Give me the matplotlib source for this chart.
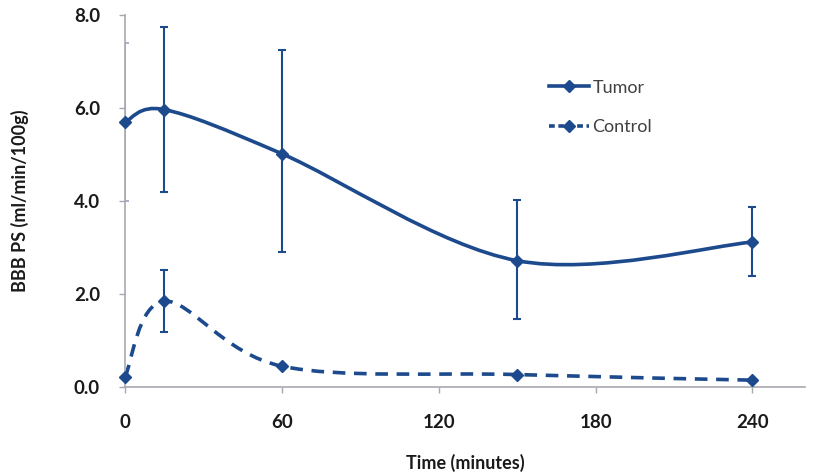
import matplotlib
matplotlib.use('Agg')
import matplotlib.pyplot as plt
import numpy as np
from matplotlib.path import Path
from matplotlib.patches import PathPatch
from matplotlib.lines import Line2D

time = [0, 15, 60, 150, 240]
tumor = [5.7, 5.97, 5.02, 2.72, 3.12]
tumor_err_lo = [1.7, 1.77, 2.12, 1.25, 0.72]
tumor_err_hi = [1.7, 1.78, 2.23, 1.30, 0.76]
control = [0.22, 1.85, 0.45, 0.27, 0.15]
control_err = [0.0, 0.67, 0.0, 0.0, 0.0]

blue = '#1d4a8c'
plt.rcParams['font.family'] = ['Lato', 'DejaVu Sans']


def smooth_path(x, y):
    '''Excel-artige geglaettete Linie als Bezier-Pfad'''
    pts = np.column_stack([x, y]).astype(float)
    n = len(pts)
    verts = [pts[0]]
    codes = [Path.MOVETO]
    for i in range(n - 1):
        p0 = pts[max(i - 1, 0)]
        p1 = pts[i]
        p2 = pts[i + 1]
        p3 = pts[min(i + 2, n - 1)]
        verts += [p1 + (p2 - p0) / 6, p2 - (p3 - p1) / 6, p2]
        codes += [Path.CURVE4] * 3
    return Path(verts, codes)


fig = plt.figure(figsize=(8.14, 4.75), dpi=100)
ax = fig.add_axes([0.1536, 0.185, 0.835, 0.783])

ax.add_patch(PathPatch(smooth_path(time, tumor), fill=False, edgecolor=blue,
                       lw=2.6, capstyle='round', clip_on=False))
ax.add_patch(PathPatch(smooth_path(time, control), fill=False, edgecolor=blue,
                       lw=2.6, linestyle=(0, (3.5, 2.4)), clip_on=False))

# Fehlerbalken bei t=0 liegt auf der Achse und ist im Original blass
ax.errorbar(time[:1], tumor[:1], yerr=[tumor_err_lo[:1], tumor_err_hi[:1]],
            fmt='none', ecolor='#9aa3c0', elinewidth=1.3, capsize=3,
            capthick=1.2, zorder=1)
ax.errorbar(time[1:], tumor[1:], yerr=[tumor_err_lo[1:], tumor_err_hi[1:]],
            fmt='none', ecolor=blue, elinewidth=1.5, capsize=3, capthick=1.5)
ax.errorbar(time[1:2], control[1:2], yerr=control_err[1:2], fmt='none',
            ecolor=blue, elinewidth=1.5, capsize=3, capthick=1.5)
ax.plot(time, tumor, 'D', color=blue, ms=6.5, clip_on=False, zorder=5)
ax.plot(time, control, 'D', color=blue, ms=6.5, clip_on=False, zorder=5)

ax.set_xlim(0, 260)
ax.set_ylim(0, 8)
ax.set_xticks([0, 60, 120, 180, 240])
ax.set_yticks([0, 2, 4, 6, 8])
ax.set_yticklabels(['0.0', '2.0', '4.0', '6.0', '8.0'])
for s in ['top', 'right']:
    ax.spines[s].set_visible(False)
for s in ['left', 'bottom']:
    ax.spines[s].set_color('#a8a8b0')
    ax.spines[s].set_linewidth(1.2)
ax.tick_params(colors='#a8a8b0', length=4, width=1, labelcolor='#1a1a1a',
               labelsize=13.5)
ax.tick_params(axis='x', pad=15)
ax.tick_params(axis='y', pad=14)
for lbl in ax.get_xticklabels() + ax.get_yticklabels():
    lbl.set_fontweight('bold')

ax.set_xlabel('Time (minutes)', fontsize=13, fontweight='bold', color='#1a1a1a',
              labelpad=17)
ax.set_ylabel('BBB PS (ml/min/100g)', fontsize=13, fontweight='bold',
              color='#1a1a1a', labelpad=32)

handles = [Line2D([], [], color=blue, lw=2.6, marker='D', ms=6),
           Line2D([], [], color=blue, lw=2.6, ls=(0, (1.6, 1.0)), marker='D', ms=6)]
leg = ax.legend(handles, ['Tumor', 'Control'], loc='upper left',
                bbox_to_anchor=(0.6, 0.87), frameon=False, fontsize=13,
                handlelength=2.2, handletextpad=0.2, labelspacing=1.3)
for t in leg.get_texts():
    t.set_color('#404040')

plt.savefig('out.png', dpi=100)
